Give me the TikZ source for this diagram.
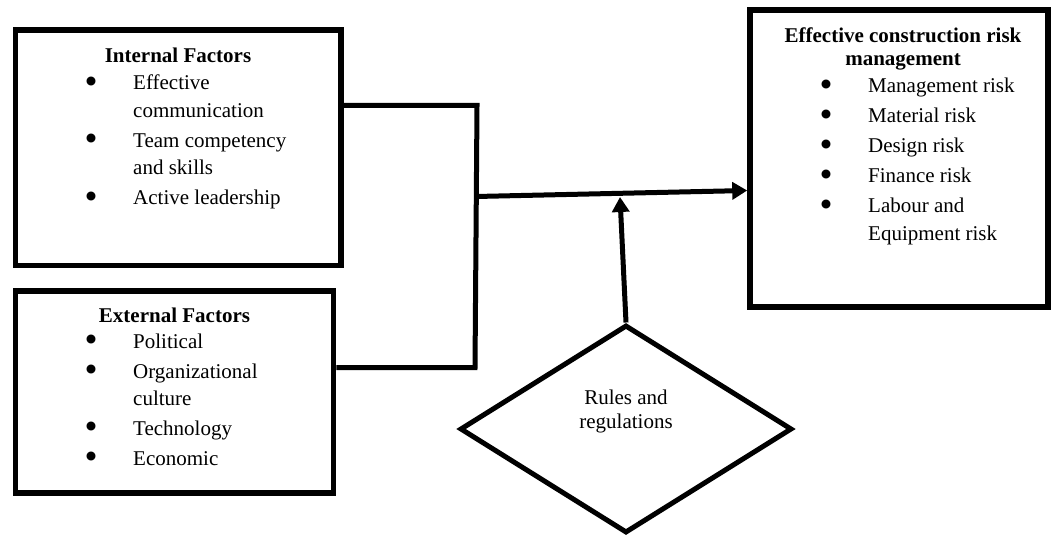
\documentclass[tikz,border=0pt]{standalone}
\usepackage{fontspec}
\setmainfont{Liberation Serif}
\usetikzlibrary{shapes.geometric,arrows.meta}
\newcommand{\bdot}{{\setlength{\unitlength}{1pt}\begin{picture}(9,0)\put(3.8,8.6){\circle*{8.5}}\end{picture}}}
\newcommand{\bitem}[1]{\par\noindent\makebox[46pt][l]{\bdot}#1}
\newcommand{\bcont}[1]{\par\noindent\hspace*{46pt}#1}
\newcommand{\bgap}{\par\vspace{2.5pt}}
\newcommand{\lstfont}{\fontsize{21}{27.5}\selectfont\setlength{\parskip}{0pt}}
\begin{document}
\begin{tikzpicture}[x=1pt,y=-1pt,
  box/.style={draw, line width=5.5pt, rectangle, inner sep=0},
  conn/.style={draw, line width=5pt},
  arrowline/.style={draw, line width=5pt, -{Triangle[length=15pt,width=17pt]}},
  hdr/.style={anchor=base, inner sep=0, font=\fontsize{21}{22.5}\selectfont\bfseries},
  lst/.style={anchor=base west, inner sep=0},
  dmd/.style={diamond, draw, line width=5pt, inner sep=0, minimum width=332pt, minimum height=208pt}]
\useasboundingbox (0,0) rectangle (1051,537);
% boxes
\node[box, minimum width=325.5pt, minimum height=235.5pt] (int) at (178.25,147.75) {};
\node[box, minimum width=318pt, minimum height=202pt] (ext) at (174.5,392) {};
\node[box, minimum width=298pt, minimum height=297pt] (rbox) at (899,158.5) {};
\node[dmd] (dia) at (626,429) {};
% texts
\node[hdr] (inth) at (178,63) {Internal Factors};
\node[lst] (intl) at (87,90) {\parbox[t]{250pt}{\lstfont
  \bitem{Effective}\bcont{communication}\bgap
  \bitem{Team competency}\bcont{and skills}\bgap
  \bitem{Active leadership}}};
\node[hdr] (exth) at (174.5,322) {External Factors};
\node[lst] (extl) at (87,348) {\parbox[t]{250pt}{\lstfont
  \bitem{Political}\bgap
  \bitem{Organizational}\bcont{culture}\bgap
  \bitem{Technology}\bgap
  \bitem{Economic}}};
\node[hdr] (rh) at (903,43) {\parbox[t]{300pt}{\centering Effective construction risk\\ management}};
\node[lst] (rl) at (822,93) {\parbox[t]{230pt}{\lstfont
  \bitem{Management risk}\bgap
  \bitem{Material risk}\bgap
  \bitem{Design risk}\bgap
  \bitem{Finance risk}\bgap
  \bitem{Labour and}\bcont{Equipment risk}}};
\node[anchor=base, inner sep=0] (diat) at (626,404) {\parbox[t]{200pt}{\centering\fontsize{21}{24}\selectfont Rules and\\ regulations}};
% connectors
\coordinate (j1) at (477,105.5);
\coordinate (j2) at (475,367.5);
\coordinate (jm) at (476,196.5);
\coordinate (vt) at (620,197);
\draw[conn] (int.east |- j1) -- (j1) -- (j2) -- (ext.east |- j2);
\draw[arrowline] (jm) -- ([yshift=-32pt]rbox.west);
\draw[arrowline] (dia.north) -- (vt);
\end{tikzpicture}
\end{document}
